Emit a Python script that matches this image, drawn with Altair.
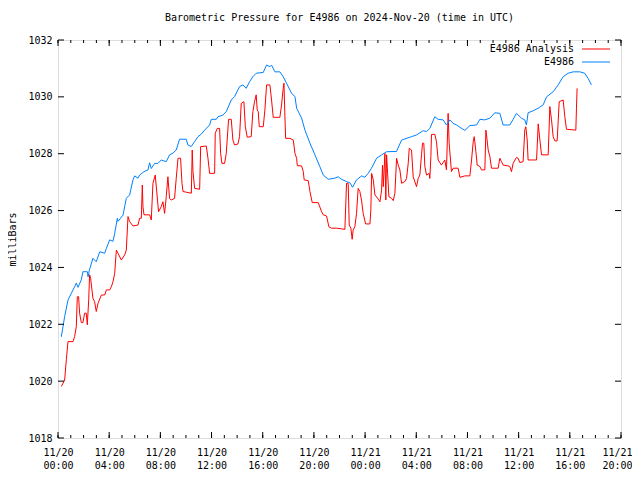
import altair as alt
import pandas as pd

# ---- data (hours since 2024-11-20 00:00 UTC, pressure in mb) ----
blue_hours = [0.26, 0.52, 0.78, 1.04, 1.30, 1.43, 1.56, 1.82, 1.95, 2.29, 2.35, 2.45, 2.73, 2.99, 3.26,
              3.65, 3.78, 4.04, 4.30, 4.43, 4.64, 4.69, 5.08, 5.34, 5.60, 5.86, 5.99, 6.25, 6.38, 6.72,
              7.03, 7.16, 7.29, 7.55, 7.81, 8.07, 8.46, 8.72, 8.98, 9.24, 9.50, 10.02, 10.15, 10.41,
              10.67, 10.94, 11.20, 11.46, 11.85, 11.98, 12.37, 12.50, 12.89, 13.15, 13.54, 13.80,
              14.19, 14.45, 14.71, 14.97, 15.23, 15.49, 16.04, 16.30, 16.56, 16.69, 16.95, 17.34,
              17.60, 17.86, 18.26, 18.52, 18.65, 19.04, 19.30, 19.69, 20.08, 20.47, 20.73, 21.12,
              21.64, 21.90, 22.16, 22.55, 22.81, 23.02, 23.33, 23.73, 23.98, 24.24, 24.50, 24.90,
              25.29, 25.68, 26.46, 26.85, 27.63, 28.02, 28.54, 28.80, 29.06, 29.45, 29.71, 30.10,
              30.36, 30.62, 30.88, 31.15, 31.41, 31.80, 32.19, 32.71, 32.97, 33.36, 33.75, 34.14,
              34.53, 34.79, 35.31, 35.57, 35.83, 36.22, 36.48, 36.61, 36.74, 37.13, 37.53, 37.92,
              38.18, 38.70, 39.09, 39.48, 39.87, 40.26, 40.78, 41.17, 41.43, 41.69]
blue_values = [1021.56, 1022.27, 1022.85, 1023.09, 1023.32, 1023.45, 1023.30, 1023.56, 1023.85, 1023.85,
               1023.67, 1023.90, 1024.32, 1024.20, 1024.55, 1024.50, 1024.67, 1024.97, 1024.92, 1025.20,
               1025.73, 1025.62, 1025.84, 1026.43, 1026.55, 1027.08, 1027.22, 1027.14, 1027.25, 1027.37,
               1027.43, 1027.68, 1027.48, 1027.66, 1027.66, 1027.78, 1027.72, 1027.96, 1028.02, 1028.13,
               1028.51, 1028.51, 1028.31, 1028.25, 1028.42, 1028.60, 1028.69, 1028.83, 1029.01, 1029.21,
               1029.21, 1029.30, 1029.36, 1029.48, 1029.89, 1030.01, 1030.36, 1030.42, 1030.30, 1030.53,
               1030.71, 1030.83, 1030.86, 1031.12, 1031.06, 1031.12, 1030.88, 1030.88, 1030.71, 1030.48,
               1030.12, 1030.01, 1029.60, 1029.25, 1028.83, 1028.37, 1027.96, 1027.54, 1027.25, 1027.10,
               1027.14, 1027.19, 1027.10, 1027.02, 1026.98, 1026.82, 1027.08, 1027.22, 1027.17, 1027.31,
               1027.49, 1027.84, 1027.96, 1028.07, 1028.08, 1028.48, 1028.60, 1028.66, 1028.81, 1028.78,
               1028.89, 1029.30, 1029.21, 1029.19, 1029.01, 1029.19, 1029.07, 1029.01, 1028.93, 1028.82,
               1028.99, 1029.01, 1029.21, 1029.19, 1029.25, 1029.44, 1029.42, 1029.01, 1029.01, 1029.21,
               1029.42, 1029.25, 1029.19, 1029.01, 1029.44, 1029.51, 1029.60, 1029.72, 1030.00, 1030.18,
               1030.42, 1030.71, 1030.83, 1030.88, 1030.88, 1030.83, 1030.65, 1030.42]

red_hours = [0.26, 0.52, 0.65, 0.78, 1.17, 1.30, 1.43, 1.51, 1.61, 1.69, 1.82, 1.95, 2.08, 2.21, 2.29,
             2.40, 2.47, 2.55, 2.73, 2.86, 2.99, 3.13, 3.39, 3.65, 3.78, 4.04, 4.17, 4.30, 4.43, 4.56,
             4.69, 4.95, 5.21, 5.34, 5.47, 5.60, 5.86, 6.25, 6.38, 6.51, 6.59, 6.64, 6.72, 7.16, 7.29,
             7.42, 7.60, 7.81, 7.86, 8.07, 8.20, 8.33, 8.46, 8.59, 8.72, 8.85, 9.11, 9.24, 9.38, 9.58,
             9.69, 9.77, 10.42, 10.49, 10.55, 10.68, 11.07, 11.15, 11.59, 11.72, 11.85, 12.24, 12.29,
             12.45, 12.63, 12.71, 12.81, 13.02, 13.15, 13.33, 13.54, 13.67, 13.80, 14.06, 14.19, 14.32,
             14.53, 14.64, 14.79, 15.10, 15.23, 15.36, 15.49, 15.57, 15.65, 15.73, 16.04, 16.17, 16.30,
             16.56, 16.69, 16.82, 17.34, 17.47, 17.60, 17.66, 17.73, 17.79, 18.13, 18.39, 18.52, 18.65,
             18.70, 19.04, 19.17, 19.24, 19.56, 19.69, 19.87, 20.34, 20.60, 20.73, 20.99, 21.17, 21.38,
             21.77, 22.42, 22.55, 22.68, 22.76, 22.89, 22.99, 23.07, 23.20, 23.33, 23.46, 23.59, 23.72,
             23.85, 24.04, 24.38, 24.45, 24.51, 24.64, 24.77, 25.03, 25.16, 25.29, 25.36, 25.42, 25.55,
             25.62, 25.68, 25.76, 25.86, 26.07, 26.20, 26.33, 26.46, 26.59, 26.72, 26.85, 27.11, 27.24,
             27.37, 27.45, 27.63, 27.76, 28.02, 28.15, 28.28, 28.41, 28.49, 28.59, 28.67, 28.80, 29.01,
             29.06, 29.14, 29.19, 29.45, 29.58, 29.71, 29.97, 30.23, 30.36, 30.49, 30.57, 30.75, 30.88,
             31.27, 31.41, 31.80, 32.19, 32.32, 32.45, 32.53, 32.66, 32.76, 32.97, 33.10, 33.36, 33.44,
             33.49, 33.62, 33.75, 33.88, 34.40, 34.53, 34.66, 34.79, 35.18, 35.31, 35.44, 35.57, 35.83,
             35.96, 36.09, 36.35, 36.48, 36.56, 36.67, 36.74, 37.40, 37.53, 37.66, 37.79, 38.31, 38.44,
             38.57, 38.70, 38.83, 39.01, 39.17, 39.48, 39.61, 39.74, 40.47, 40.52, 40.57]
red_values = [1019.81, 1020.04, 1020.75, 1021.39, 1021.39, 1021.57, 1021.92, 1022.97, 1022.97, 1022.39,
              1022.06, 1022.06, 1022.39, 1022.39, 1021.98, 1022.86, 1023.74, 1023.62, 1022.91, 1022.80,
              1022.45, 1022.74, 1023.03, 1023.03, 1023.21, 1023.21, 1023.32, 1023.50, 1023.79, 1024.61,
              1024.50, 1024.26, 1024.44, 1024.61, 1025.79, 1025.61, 1025.46, 1025.49, 1025.73, 1025.73,
              1026.90, 1026.14, 1025.85, 1025.85, 1025.67, 1026.96, 1027.25, 1026.20, 1025.96, 1026.14,
              1026.31, 1025.90, 1026.49, 1027.19, 1026.43, 1026.37, 1026.43, 1027.13, 1027.84, 1027.84,
              1026.96, 1026.67, 1026.61, 1028.13, 1027.37, 1026.78, 1026.75, 1028.25, 1028.27, 1027.84,
              1027.31, 1027.31, 1028.72, 1028.89, 1028.89, 1028.01, 1027.66, 1027.66, 1028.01, 1029.21,
              1029.21, 1028.48, 1028.31, 1028.34, 1028.60, 1029.77, 1029.83, 1028.95, 1028.58, 1028.60,
              1029.48, 1029.83, 1030.07, 1029.54, 1029.48, 1028.95, 1028.95, 1029.54, 1030.42, 1030.42,
              1029.89, 1029.28, 1029.28, 1029.71, 1030.30, 1030.48, 1029.36, 1028.54, 1028.54, 1028.48,
              1028.01, 1027.84, 1027.58, 1027.57, 1027.37, 1027.08, 1027.05, 1026.67, 1026.28, 1026.28,
              1025.96, 1025.85, 1025.81, 1025.43, 1025.38, 1025.38, 1025.34, 1026.96, 1026.96, 1025.49,
              1025.38, 1024.99, 1025.32, 1025.43, 1025.90, 1026.78, 1026.67, 1026.37, 1025.90, 1025.53,
              1025.53, 1026.02, 1027.31, 1027.08, 1026.55, 1026.40, 1026.31, 1026.72, 1027.60, 1026.84,
              1028.01, 1026.37, 1027.96, 1027.31, 1026.49, 1026.43, 1026.35, 1026.61, 1027.84, 1027.60,
              1027.43, 1026.96, 1027.02, 1027.13, 1027.66, 1028.19, 1028.13, 1027.19, 1026.84, 1027.13,
              1027.25, 1027.96, 1028.37, 1028.37, 1027.55, 1027.25, 1027.31, 1027.13, 1027.90, 1028.68,
              1028.68, 1028.42, 1027.78, 1027.60, 1027.78, 1027.43, 1029.42, 1028.37, 1027.37, 1027.49,
              1027.49, 1027.17, 1027.22, 1027.22, 1027.78, 1028.42, 1028.60, 1028.07, 1027.60, 1027.55,
              1027.43, 1027.43, 1028.83, 1028.66, 1028.13, 1027.90, 1027.49, 1027.49, 1027.84, 1027.72,
              1027.60, 1027.57, 1027.55, 1027.37, 1027.66, 1027.87, 1027.84, 1027.69, 1027.72, 1028.83,
              1028.95, 1028.48, 1027.78, 1027.78, 1029.05, 1028.48, 1027.96, 1027.96, 1029.66, 1029.19,
              1028.60, 1028.45, 1028.45, 1029.83, 1029.89, 1029.30, 1028.86, 1028.83, 1029.60, 1030.30]

series_names = ["E4986 Analysis", "E4986"]
series_colors = ["#ff0000", "#0080ff"]
y_ticks = [1018, 1020, 1022, 1024, 1026, 1028, 1030, 1032]
major_tick_hours = list(range(0, 45, 4))
minor_tick_hours = list(range(0, 45, 1))

BASE = pd.Timestamp("2024-11-20T00:00:00Z")
W, H = 563, 398
FONT = "DejaVu Sans Mono"


def iso(hours):
    return [(BASE + pd.to_timedelta(h, unit="h")).strftime("%Y-%m-%dT%H:%M:%SZ") for h in hours]


def ms(hours):
    return [int((BASE + pd.to_timedelta(h, unit="h")).timestamp() * 1000) for h in hours]


df_red = pd.DataFrame({"time": iso(red_hours), "value": red_values, "series": series_names[0]})
df_blue = pd.DataFrame({"time": iso(blue_hours), "value": blue_values, "series": series_names[1]})
df_major = pd.DataFrame({"time": iso(major_tick_hours)})
df_minor = pd.DataFrame({"time": iso(minor_tick_hours)})
df_y = pd.DataFrame({"value": y_ticks})

x_scale = alt.Scale(type="utc",
                    domain=[alt.DateTime(year=2024, month=11, date=20, hours=0, utc=True),
                            alt.DateTime(year=2024, month=11, date=21, hours=20, utc=True)])
y_scale = alt.Scale(domain=[1018, 1032], nice=False, zero=False)

last_ms = ms([major_tick_hours[-1]])[0]
x_axis = alt.Axis(values=ms(major_tick_hours), title=None, grid=False, ticks=False, domain=False,
                  labelExpr="[utcFormat(datum.value, '%m/%d'), utcFormat(datum.value, '%H:%M')]",
                  labelFont=FONT, labelFontSize=10, labelColor="black", labelPadding=9,
                  labelLineHeight=13, labelAlign="center", labelBaseline="top", labelFlush=False,
                  labelOverlap=False,
                  labelOffset=alt.condition(f"datum.value >= {last_ms}", alt.value(-4), alt.value(0)))
y_axis = alt.Axis(values=y_ticks, format="d", title="milliBars", grid=False, ticks=False, domain=False,
                  labelFont=FONT, labelFontSize=10, labelColor="black", labelPadding=6,
                  titleFont=FONT, titleFontSize=10, titleFontWeight="normal", titleColor="black",
                  titlePadding=10)

X = alt.X("time:T", scale=x_scale, axis=x_axis)
Y = alt.Y("value:Q", scale=y_scale, axis=y_axis)

red_line = alt.Chart(df_red).mark_line(color=series_colors[0], strokeWidth=1).encode(x=X, y=Y)
blue_line = alt.Chart(df_blue).mark_line(color=series_colors[1], strokeWidth=1).encode(x=X, y=Y)

tick_layers = [
    alt.Chart(df_major).mark_rule(color="black", strokeWidth=1).encode(x=X, y=alt.value(H), y2=alt.value(H - 6)),
    alt.Chart(df_major).mark_rule(color="black", strokeWidth=1).encode(x=X, y=alt.value(0), y2=alt.value(6)),
    alt.Chart(df_minor).mark_rule(color="black", strokeWidth=1).encode(x=X, y=alt.value(H), y2=alt.value(H - 3)),
    alt.Chart(df_minor).mark_rule(color="black", strokeWidth=1).encode(x=X, y=alt.value(0), y2=alt.value(3)),
    alt.Chart(df_y).mark_rule(color="black", strokeWidth=1).encode(y=Y, x=alt.value(0), x2=alt.value(6)),
    alt.Chart(df_y).mark_rule(color="black", strokeWidth=1).encode(y=Y, x=alt.value(W - 6), x2=alt.value(W)),
]

legend_layers = []
for i, (name, col) in enumerate(zip(series_names, series_colors)):
    ldf = pd.DataFrame({"series": [name]})
    legend_layers.append(
        alt.Chart(ldf).mark_text(align="right", baseline="middle", font=FONT, fontSize=10, color="black")
        .encode(text="series:N", x=alt.value(516), y=alt.value(9 + 13 * i)))
    legend_layers.append(
        alt.Chart(ldf).mark_rule(color=col, strokeWidth=1)
        .encode(x=alt.value(524), x2=alt.value(552), y=alt.value(9 + 13 * i)))

chart = alt.layer(red_line, blue_line, *tick_layers, *legend_layers).properties(
    width=W, height=H,
    title=alt.TitleParams("Barometric Pressure for E4986 on 2024-Nov-20 (time in UTC)",
                          font=FONT, fontSize=10, fontWeight="normal", color="black",
                          anchor="middle", offset=12),
    autosize=alt.AutoSizeParams(type="none"),
    padding={"left": 50, "top": 32, "right": 11, "bottom": 40},
).configure_view(stroke="black", strokeWidth=1).configure(background="white")

chart.save("out.html", embed_options={"renderer": "svg", "actions": False})
